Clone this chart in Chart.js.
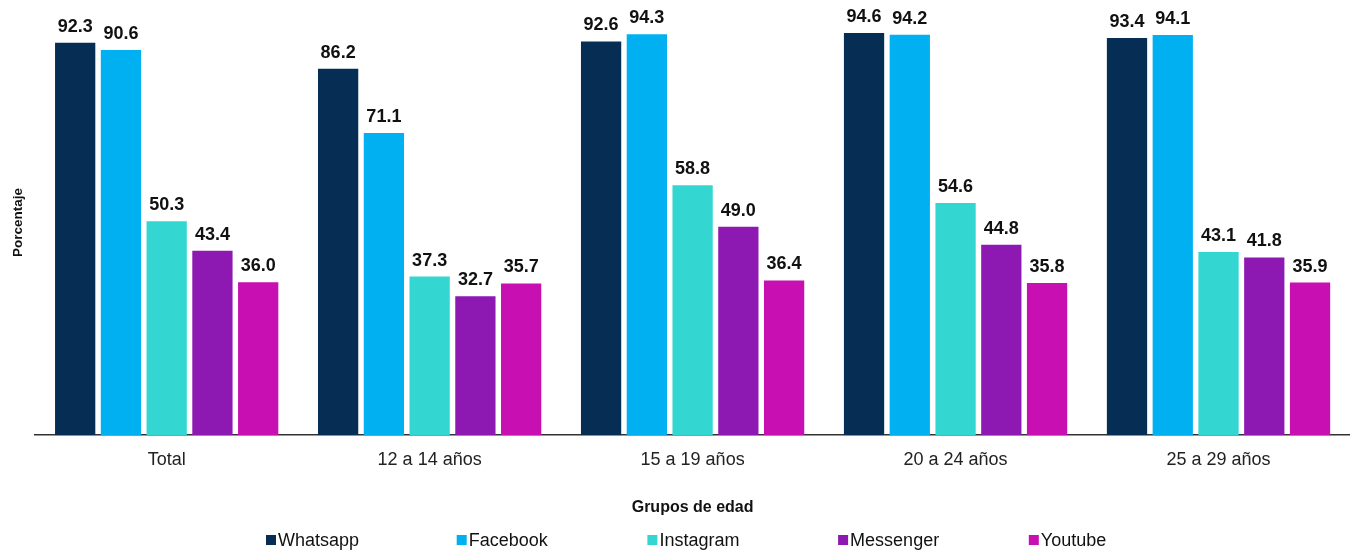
<!DOCTYPE html>
<html>
<head>
<meta charset="utf-8">
<script src="https://cdn.jsdelivr.net/npm/chart.js@4"></script>
<style>
  html, body { margin: 0; padding: 0; background: #fff; }
  #wrap { width: 1350px; height: 552px; }
</style>
</head>
<body>
<div id="wrap"><canvas id="redesChart"></canvas></div>
<script>
const categories = ['Total', '12 a 14 años', '15 a 19 años', '20 a 24 años', '25 a 29 años'];
const whatsapp = [92.3, 86.2, 92.6, 94.6, 93.4];
const facebook = [90.6, 71.1, 94.3, 94.2, 94.1];
const instagram = [50.3, 37.3, 58.8, 54.6, 43.1];
const messenger = [43.4, 32.7, 49.0, 44.8, 41.8];
const youtube = [36.0, 35.7, 36.4, 35.8, 35.9];

const FONT = '"Liberation Sans", Arial, sans-serif';

// value labels above each bar
const barLabels = {
  id: 'barLabels',
  afterDatasetsDraw(chart) {
    const ctx = chart.ctx;
    ctx.save();
    ctx.font = 'bold 18px ' + FONT;
    ctx.fillStyle = '#111';
    ctx.textAlign = 'center';
    ctx.textBaseline = 'alphabetic';
    chart.data.datasets.forEach((ds, i) => {
      chart.getDatasetMeta(i).data.forEach((bar, j) => {
        ctx.fillText(ds.data[j].toFixed(1), bar.x, bar.y - 11);
      });
    });
    ctx.restore();
  }
};

// wide, evenly spaced legend at the bottom (built-in legend can't space like this)
const spacedLegend = {
  id: 'spacedLegend',
  afterDraw(chart) {
    const ctx = chart.ctx;
    const y = chart.height - 12;
    ctx.save();
    ctx.font = '18px ' + FONT;
    ctx.textBaseline = 'middle';
    ctx.textAlign = 'left';
    chart.data.datasets.forEach((ds, i) => {
      const x = 266 + i * 190.7;
      ctx.fillStyle = ds.backgroundColor;
      ctx.fillRect(x, y - 5, 10, 10);
      ctx.fillStyle = '#111';
      ctx.fillText(ds.label, x + 12, y + 1);
    });
    ctx.restore();
  }
};

const ctx = document.getElementById('redesChart').getContext('2d');
new Chart(ctx, {
  type: 'bar',
  data: {
    labels: categories,
    datasets: [
      { label: 'Whatsapp', data: whatsapp, backgroundColor: '#062e55' },
      { label: 'Facebook', data: facebook, backgroundColor: '#00b0f0' },
      { label: 'Instagram', data: instagram, backgroundColor: '#33d6d0' },
      { label: 'Messenger', data: messenger, backgroundColor: '#8e18b2' },
      { label: 'Youtube', data: youtube, backgroundColor: '#c80fb2' }
    ]
  },
  options: {
    responsive: true,
    maintainAspectRatio: false,
    animation: false,
    categoryPercentage: 0.87,
    barPercentage: 0.88,
    layout: { padding: { left: 10, right: 0, top: 10, bottom: 35 } },
    plugins: {
      legend: { display: false },
      tooltip: { enabled: false }
    },
    scales: {
      x: {
        grid: { display: false },
        border: { display: true, color: '#333', width: 1.5 },
        ticks: {
          color: '#222',
          padding: 6,
          font: { family: FONT, size: 18 }
        },
        title: {
          display: true,
          text: 'Grupos de edad',
          color: '#111',
          padding: { top: 21, bottom: 0 },
          font: { family: FONT, size: 16, weight: 'bold' }
        }
      },
      y: {
        min: 0,
        max: 100,
        grid: { display: false },
        border: { display: false },
        ticks: { display: false },
        title: {
          display: true,
          text: 'Porcentaje',
          color: '#111',
          padding: { top: 0, bottom: 1 },
          font: { family: FONT, size: 13.5, weight: 'bold' }
        }
      }
    }
  },
  plugins: [barLabels, spacedLegend]
});
</script>
</body>
</html>
